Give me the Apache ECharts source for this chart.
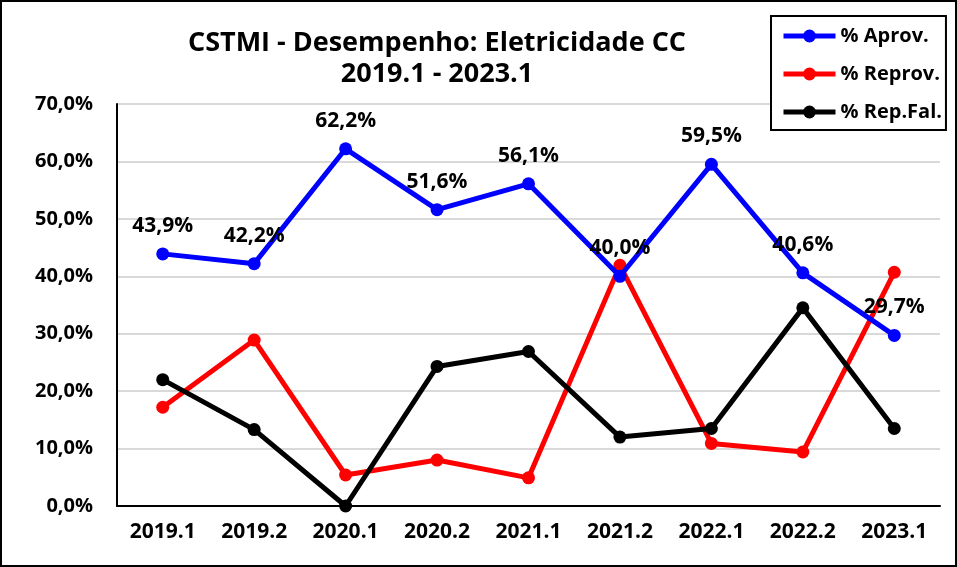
<!DOCTYPE html>
<html>
<head>
    <meta charset="UTF-8">
    <title>CSTMI - Desempenho</title>
    <style>
        html, body { margin: 0; padding: 0; background: #fff; }
        #chart { width: 957px; height: 567px; box-sizing: border-box; border: 2px solid #000; }
    </style>
    <script src="https://cdn.jsdelivr.net/npm/echarts@6/dist/echarts.min.js"></script>
</head>
<body>
<div id="chart"></div>
<script>
    var categories = ['2019.1', '2019.2', '2020.1', '2020.2', '2021.1', '2021.2', '2022.1', '2022.2', '2023.1'];
    var aprov = [43.9, 42.2, 62.2, 51.6, 56.1, 40.0, 59.5, 40.6, 29.7];
    var reprov = [17.2, 28.9, 5.4, 8.0, 4.9, 41.9, 10.9, 9.4, 40.7];
    var repFal = [22.0, 13.3, 0.0, 24.3, 26.9, 12.0, 13.5, 34.5, 13.5];

    var font = '"Open Sans", sans-serif';

    function pct(v) {
        return v.toFixed(1).replace('.', ',') + '%';
    }

    function line(name, data, color, withLabel) {
        return {
            name: name,
            type: 'line',
            data: data,
            symbol: 'circle',
            symbolSize: 13,
            lineStyle: {color: color, width: 5},
            itemStyle: {color: color},
            z: withLabel ? 5 : 3,
            label: {
                show: withLabel,
                position: 'top',
                distance: 11,
                color: '#000',
                fontFamily: font,
                fontWeight: 'bold',
                fontSize: 21,
                formatter: function (p) { return pct(p.value); }
            }
        };
    }

    var chart = echarts.init(document.getElementById('chart'), null, {renderer: 'canvas'});
    chart.setOption({
        animation: false,
        backgroundColor: '#fff',
        title: {
            text: 'CSTMI - Desempenho: Eletricidade CC\n2019.1 - 2023.1',
            left: 435,
            top: 26,
            padding: 0,
            textAlign: 'center',
            textStyle: {fontFamily: font, fontWeight: 'bold', fontSize: 27, lineHeight: 31, color: '#000'}
        },
        legend: {
            orient: 'vertical',
            left: 769,
            top: 14,
            padding: [8, 4, 6, 10],
            itemGap: 14,
            itemWidth: 52,
            itemHeight: 16,
            borderColor: '#000',
            borderWidth: 2,
            backgroundColor: '#fff',
            lineStyle: {width: 5},
            textStyle: {fontFamily: font, fontWeight: 'bold', fontSize: 20, lineHeight: 24, color: '#000'},
            data: ['% Aprov.', '% Reprov.', '% Rep.Fal.']
        },
        grid: {left: 115, right: 15, top: 102, bottom: 59},
        xAxis: {
            type: 'category',
            data: categories,
            boundaryGap: true,
            axisLine: {lineStyle: {color: '#000', width: 2}},
            axisTick: {alignWithLabel: true, length: 7, lineStyle: {color: '#000', width: 2}},
            axisLabel: {color: '#000', fontFamily: font, fontWeight: 'bold', fontSize: 21, margin: 16}
        },
        yAxis: {
            type: 'value',
            min: 0,
            max: 70,
            interval: 10,
            axisLine: {show: true, lineStyle: {color: '#000', width: 2}},
            axisTick: {show: false},
            splitLine: {lineStyle: {color: '#d9d9d9', width: 2}},
            axisLabel: {
                color: '#000', fontFamily: font, fontWeight: 'bold', fontSize: 20, margin: 24,
                formatter: function (v) { return pct(v); }
            }
        },
        series: [
            line('% Aprov.', aprov, '#0000ff', true),
            line('% Reprov.', reprov, '#ff0000', false),
            line('% Rep.Fal.', repFal, '#000000', false)
        ]
    });
</script>
</body>
</html>
